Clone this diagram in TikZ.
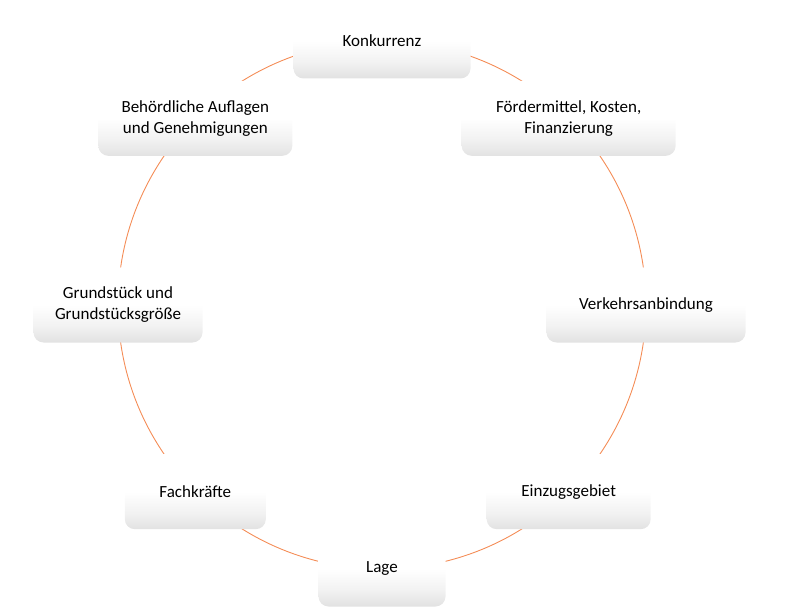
\documentclass[tikz,border=0pt]{standalone}
\usepackage{fontspec}
\setmainfont{Carlito}
\usepackage{xcolor}
\usetikzlibrary{calc}

\definecolor{ringorange}{RGB}{244,140,86}
\definecolor{boxgray}{RGB}{226,226,226}
\pgfdeclareverticalshading{boxfade}{100bp}{color(0bp)=(boxgray); color(25bp)=(boxgray); color(36bp)=(boxgray!45); color(50bp)=(white); color(100bp)=(white)}

\tikzset{
	factor/.style = {shading = boxfade, rounded corners = 10pt, minimum height = 75pt,
		inner sep = 0pt, align = center, font = \fontsize{17}{21}\selectfont},
}

\begin{document}
\begin{tikzpicture}[x = 1pt, y = 1pt]
		\useasboundingbox (0, 0) rectangle (787, 614);
		\def\R{264};
		
		\coordinate (ring) at (382, 309);
		\draw [ringorange, line width = 0.9pt] (ring) circle (\R);
		
		\node [factor, minimum width = 177pt] (konkurrenz) at ($(ring) + (90:\R)$) {Konkurrenz};
		\node [factor, minimum width = 214pt] (foerder) at ($(ring) + (45:\R)$) {Fördermittel, Kosten,\\Finanzierung};
		\node [factor, minimum width = 199pt] (verkehr) at ($(ring) + (0:\R)$) {Verkehrsanbindung};
		\node [factor, minimum width = 164pt] (einzug) at ($(ring) + (-45:\R)$) {Einzugsgebiet};
		\node [factor, minimum width = 127pt] (lage) at ($(ring) + (-90:\R)$) {Lage};
		\node [factor, minimum width = 141pt] (fachkraefte) at ($(ring) + (-135:\R)$) {Fachkräfte};
		\node [factor, minimum width = 169pt] (grundstueck) at ($(ring) + (180:\R)$) {Grundstück und\\Grundstücksgröße};
		\node [factor, minimum width = 194pt] (behoerde) at ($(ring) + (135:\R)$) {Behördliche Auflagen\\und Genehmigungen};
	\end{tikzpicture}
\end{document}
